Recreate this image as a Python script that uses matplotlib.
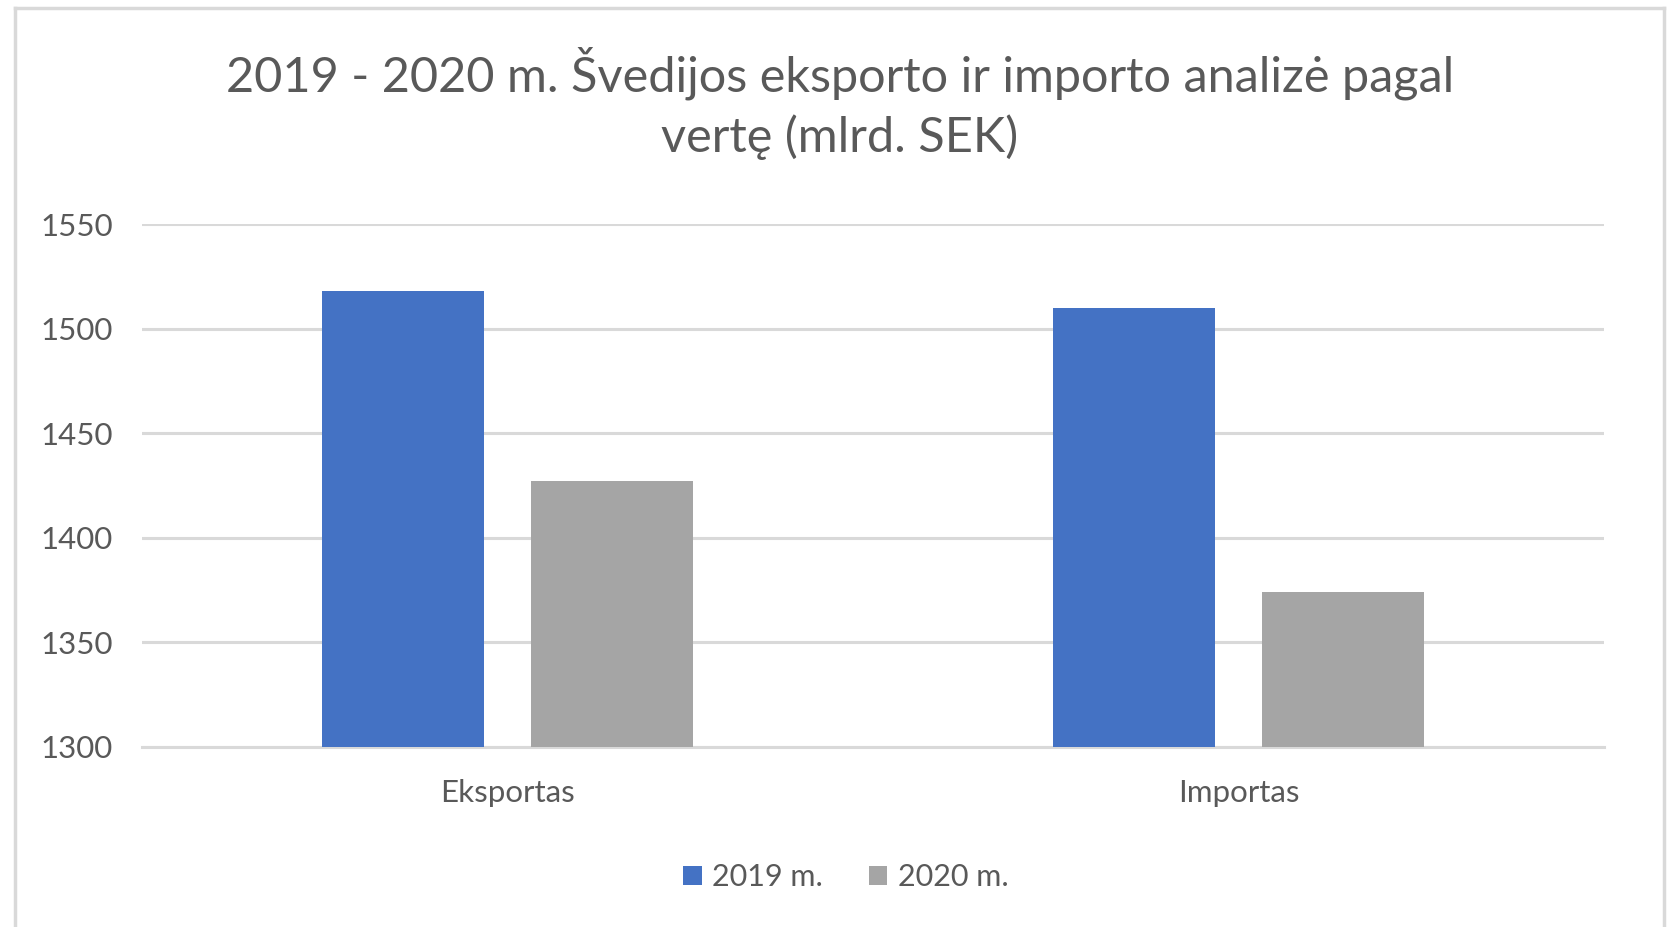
import matplotlib
matplotlib.use("Agg")
import matplotlib.pyplot as plt
import numpy as np
from matplotlib.lines import Line2D

categories = ["Eksportas", "Importas"]
years = ["2019 m.", "2020 m."]
values_2019 = [1518, 1510]
values_2020 = [1427, 1374]
colors = ["#4472C4", "#A5A5A5"]
yticks = [1300, 1350, 1400, 1450, 1500, 1550]
title = "2019 - 2020 m. Švedijos eksporto ir importo analizė pagal\nvertę (mlrd. SEK)"

plt.rcParams["font.family"] = ["Lato", "DejaVu Sans"]
text_color = "#595959"
grid_color = "#D9D9D9"

fig = plt.figure(figsize=(16.73, 9.27), dpi=100)
ax = fig.add_axes([142 / 1673, 1 - 747 / 927, (1604 - 142) / 1673, (747 - 224) / 927])

x = np.arange(len(categories))
width = 0.222
offset = 0.143
ax.bar(x - offset, np.array(values_2019) - 1300, width, bottom=1300, color=colors[0], label=years[0], zorder=3)
ax.bar(x + offset, np.array(values_2020) - 1300, width, bottom=1300, color=colors[1], label=years[1], zorder=3)

ax.set_xlim(-0.5, 1.5)
ax.set_ylim(1300, 1550)
ax.set_yticks(yticks)
ax.set_xticks(x)
ax.set_xticklabels(categories)
ax.grid(axis="y", color=grid_color, linewidth=2.2, zorder=0)
for s in ["top", "right", "left"]:
    ax.spines[s].set_visible(False)
ax.spines["bottom"].set_color(grid_color)
ax.spines["bottom"].set_linewidth(2.2)
ax.tick_params(axis="both", length=0, colors=text_color, labelsize=22.5)
ax.tick_params(axis="y", pad=21)
ax.tick_params(axis="x", pad=23)

fig.text(840 / 1673, 1 - 103 / 927, title, ha="center", va="center", fontsize=35,
         color=text_color, linespacing=1.39)

fig.legend(loc="center", bbox_to_anchor=(846 / 1673, 1 - 877 / 927), ncol=2, frameon=False,
           fontsize=22, labelcolor=text_color, handlelength=0.6, handleheight=0.6,
           handletextpad=0.35, columnspacing=1.5)

# chart frame
frame = dict(color=grid_color, linewidth=2.5, transform=fig.transFigure)
fig.add_artist(Line2D([15 / 1673, 15 / 1673], [0, 1 - 8 / 927], **frame))
fig.add_artist(Line2D([1664 / 1673, 1664 / 1673], [0, 1 - 8 / 927], **frame))
fig.add_artist(Line2D([15 / 1673, 1664 / 1673], [1 - 8 / 927, 1 - 8 / 927], **frame))

fig.savefig("out.png", dpi=100, facecolor="white")
